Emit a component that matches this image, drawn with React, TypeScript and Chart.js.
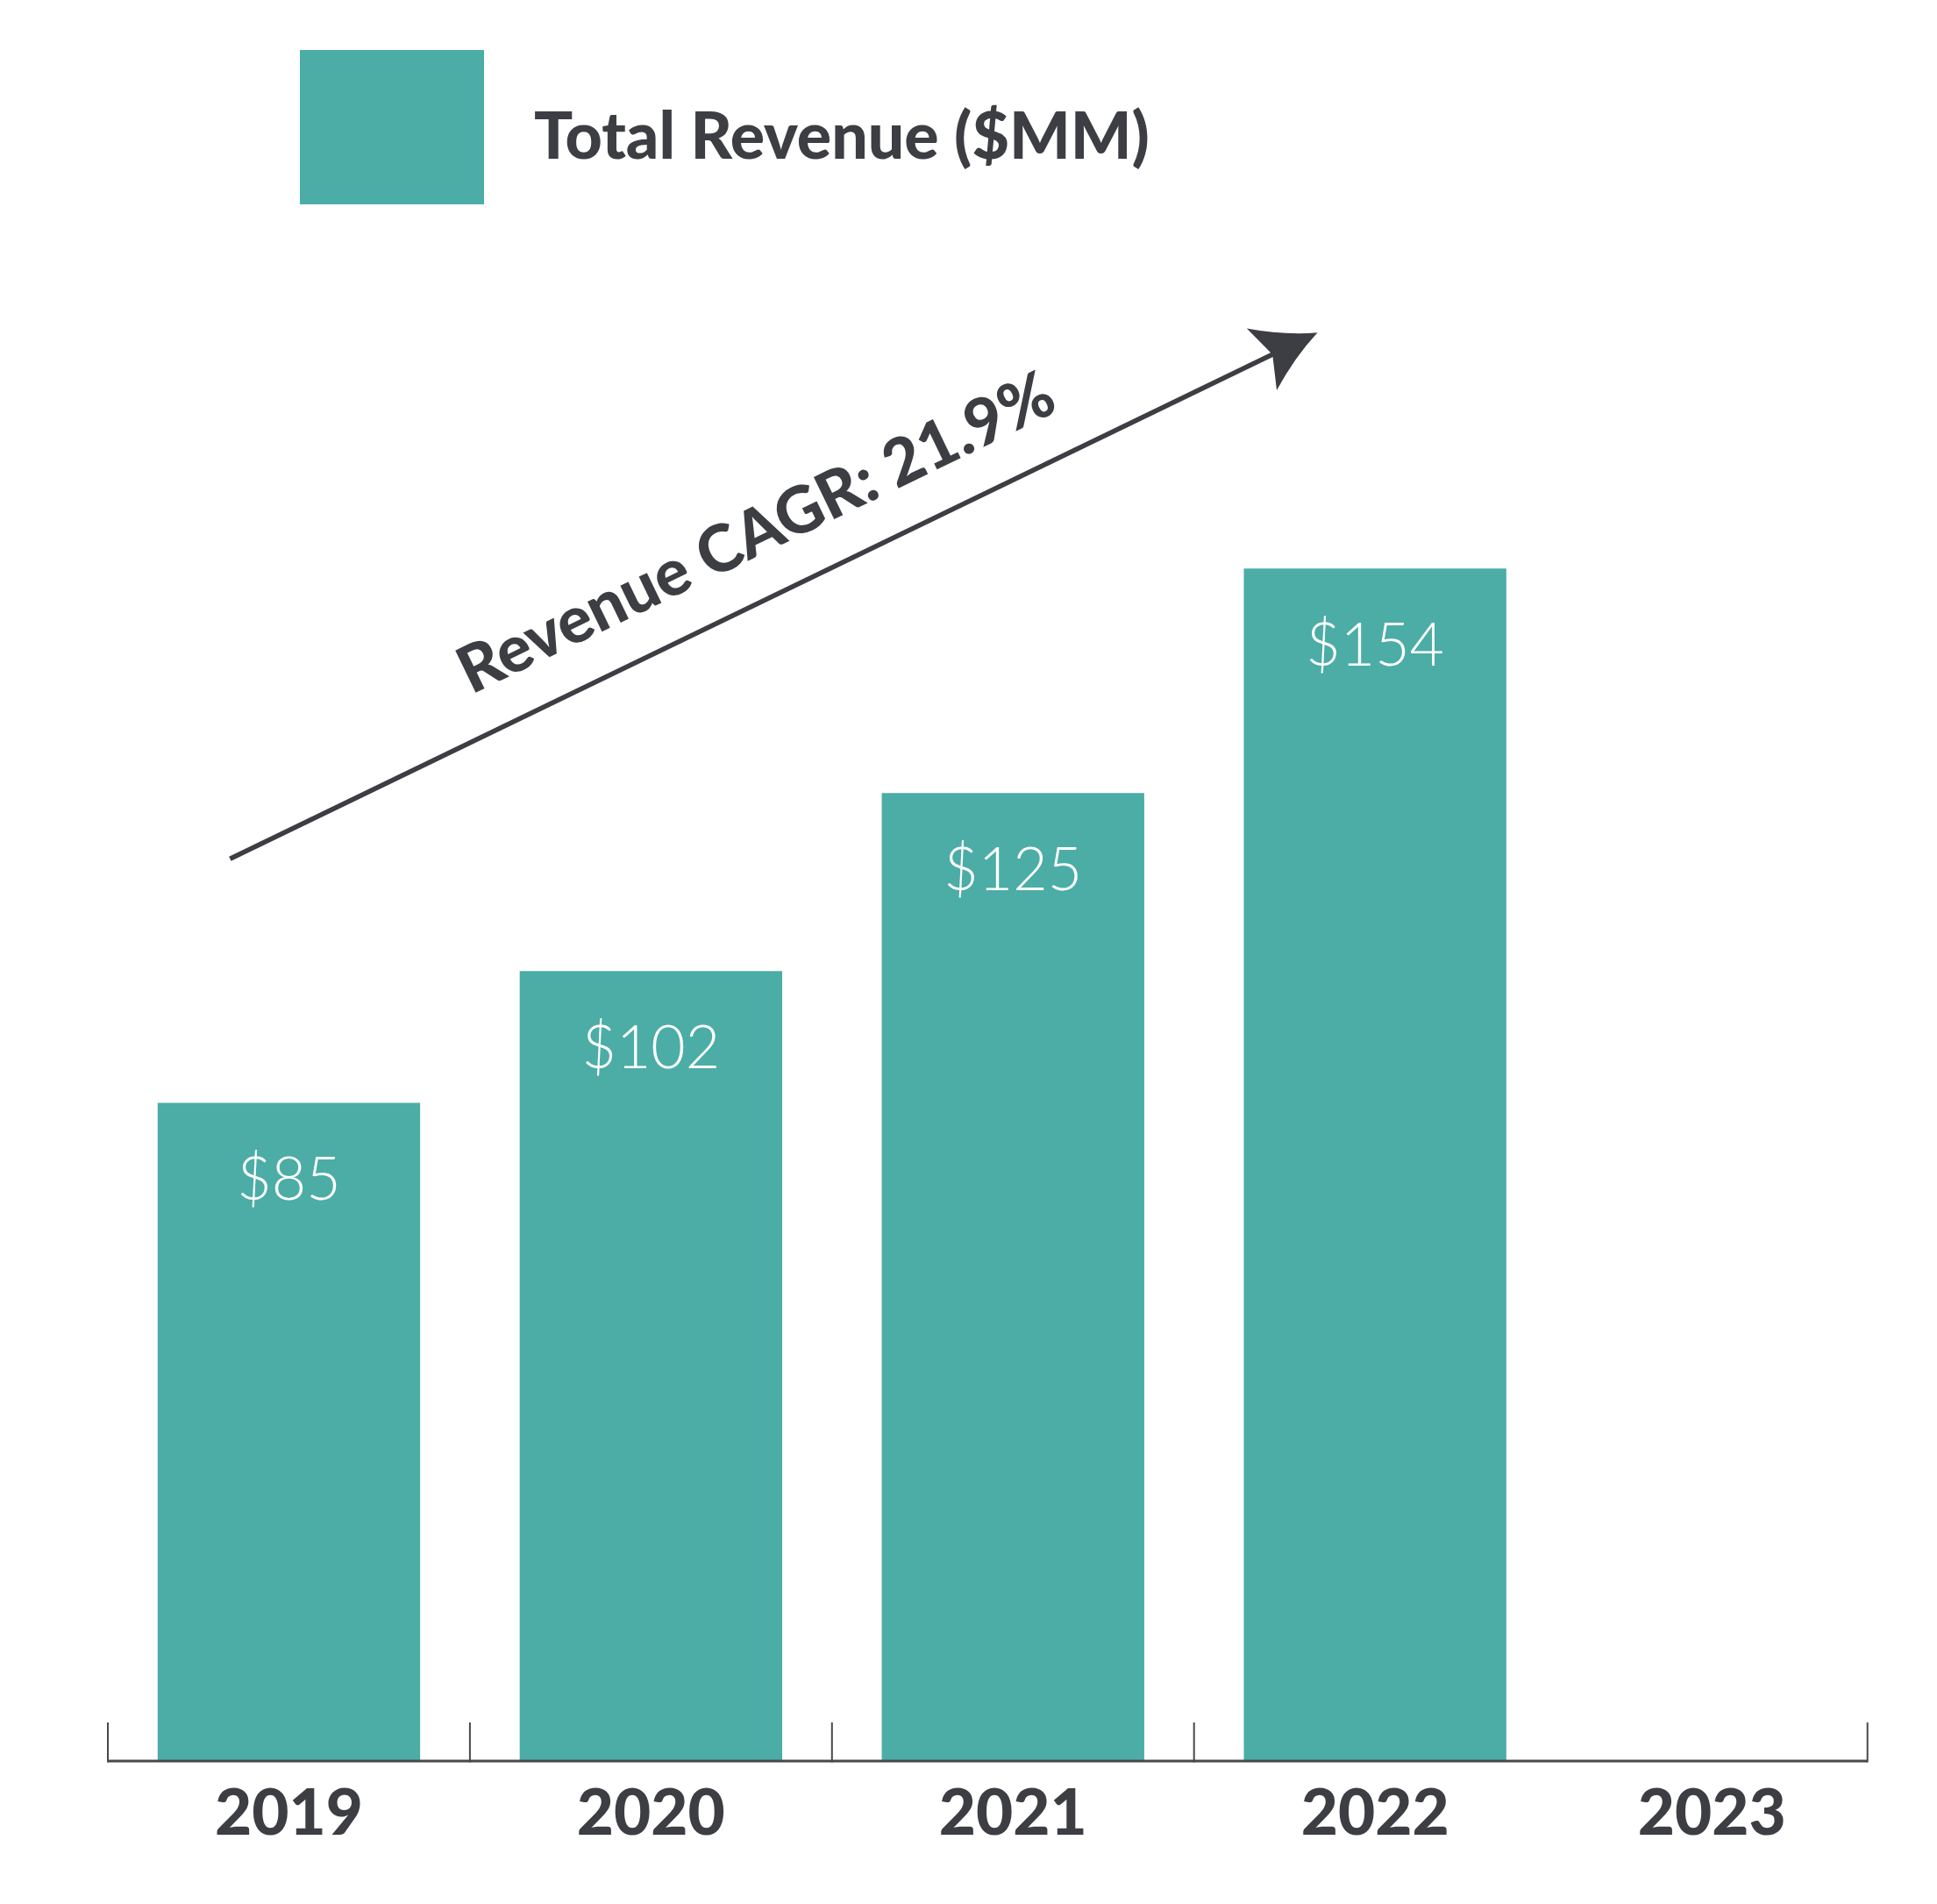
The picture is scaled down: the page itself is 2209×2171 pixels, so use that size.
import React, { useEffect, useRef } from "react";
import { Chart, registerables } from "chart.js";

Chart.register(...registerables);

// ---- data ----
const categories = ["2019", "2020", "2021", "2022", "2023"];
const revenue: (number | null)[] = [85, 102, 125, 154, null];
const valueLabels = ["$85", "$102", "$125", "$154", ""];
const seriesLabel = "Total Revenue ($MM)";
const cagrLabel = "Revenue CAGR: 21.9%";
const yMin = 0;
const yMax = 200;
// arrow annotation anchored in data space (category index, value)
const arrowStart = { x: -0.1625, y: 116.5 };
const arrowTip = { x: 2.841, y: 184.45 };

// ---- styles ----
const TEAL = "#4bada6";
const INK = "#3d3e43";
const AXIS = "#48484d";
const FAMILY = "Lato, 'Open Sans', sans-serif";
const HEAVY = "900";

function fitSize(ctx: CanvasRenderingContext2D, text: string, weight: string, target: number) {
  ctx.font = `${weight} 100px ${FAMILY}`;
  const w = ctx.measureText(text).width;
  return (100 * target) / w;
}

const decor = {
  id: "decor",
  afterDatasetsDraw(chart: any) {
    const ctx: CanvasRenderingContext2D = chart.ctx;
    const xs = chart.scales.x;
    const ys = chart.scales.y;
    const area = chart.chartArea;
    const n = categories.length;
    const step = (area.right - area.left) / n;
    const base = ys.getPixelForValue(0);
    ctx.save();

    // value labels inside bars
    const meta = chart.getDatasetMeta(0);
    ctx.fillStyle = "#ffffff";
    ctx.textAlign = "center";
    ctx.textBaseline = "alphabetic";
    ctx.font = `300 68px ${FAMILY}`;
    meta.data.forEach((bar: any, i: number) => {
      if (revenue[i] == null) return;
      ctx.fillText(valueLabels[i], bar.x, bar.y + 111);
    });

    // axis line and ticks
    const axisRight = xs.getPixelForValue(n - 1) + 0.36 * step;
    ctx.strokeStyle = AXIS;
    ctx.lineWidth = 3;
    ctx.beginPath();
    ctx.moveTo(area.left, base);
    ctx.lineTo(axisRight, base);
    ctx.stroke();
    ctx.lineWidth = 2;
    const tickXs: number[] = [];
    for (let i = 0; i < n - 1; i++) tickXs.push(area.left + i * step);
    tickXs.push(axisRight);
    tickXs.forEach((x) => {
      ctx.beginPath();
      ctx.moveTo(x, base + 1.5);
      ctx.lineTo(x, base - 44);
      ctx.stroke();
    });

    // year labels
    const yearSize = fitSize(ctx, categories[0], HEAVY, 169);
    ctx.fillStyle = INK;
    ctx.font = `${HEAVY} ${yearSize}px ${FAMILY}`;
    ctx.textAlign = "center";
    categories.forEach((c, i) => {
      const x = i === n - 1 ? (area.left + i * step + axisRight) / 2 : xs.getPixelForValue(i);
      ctx.fillText(c, x, base + 84);
    });

    // legend
    ctx.fillStyle = TEAL;
    ctx.fillRect(342, 57, 210, 176);
    const legSize = fitSize(ctx, seriesLabel, HEAVY, 702);
    ctx.fillStyle = INK;
    ctx.font = `${HEAVY} ${legSize}px ${FAMILY}`;
    ctx.textAlign = "left";
    ctx.fillText(seriesLabel, 609, 181);

    // CAGR arrow
    const sx = xs.getPixelForValue(arrowStart.x);
    const sy = ys.getPixelForValue(arrowStart.y);
    const tx = xs.getPixelForValue(arrowTip.x);
    const ty = ys.getPixelForValue(arrowTip.y);
    const ang = Math.atan2(ty - sy, tx - sx);
    const len = Math.hypot(tx - sx, ty - sy);
    ctx.translate(sx, sy);
    ctx.rotate(ang);
    ctx.strokeStyle = INK;
    ctx.fillStyle = INK;
    ctx.lineWidth = 5.5;
    ctx.beginPath();
    ctx.moveTo(0, 0);
    ctx.lineTo(len - 55, 0);
    ctx.stroke();
    // head (concave)
    ctx.beginPath();
    ctx.moveTo(len, 0);
    ctx.quadraticCurveTo(len - 36, -14, len - 70.5, -39.5);
    ctx.lineTo(len - 57, 0);
    ctx.lineTo(len - 70.5, 39);
    ctx.quadraticCurveTo(len - 36, 14, len, 0);
    ctx.closePath();
    ctx.fill();
    // label
    const cagrSize = fitSize(ctx, cagrLabel, HEAVY, 746);
    ctx.font = `${HEAVY} ${cagrSize}px ${FAMILY}`;
    ctx.textAlign = "left";
    ctx.textBaseline = "alphabetic";
    ctx.fillText(cagrLabel, 329, -48.5);

    ctx.restore();
  },
};

export default function App() {
  const ref = useRef<HTMLCanvasElement | null>(null);
  useEffect(() => {
    if (!ref.current) return;
    const chart = new Chart(ref.current, {
      type: "bar",
      data: {
        labels: categories,
        datasets: [
          {
            label: seriesLabel,
            data: revenue,
            backgroundColor: TEAL,
            borderWidth: 0,
            barPercentage: 0.725,
            categoryPercentage: 1,
          },
        ],
      },
      options: {
        responsive: false,
        animation: false,
        devicePixelRatio: 1,
        layout: { padding: { left: 123, right: 21.5, top: 242, bottom: 163 } },
        plugins: { legend: { display: false }, tooltip: { enabled: false } },
        scales: {
          x: { display: false, offset: true },
          y: { display: false, min: yMin, max: yMax },
        },
      },
      plugins: [decor],
    } as any);
    return () => chart.destroy();
  }, []);
  return (
    <div style={{ position: "absolute", left: 0, top: 0, width: 2209, height: 2171, background: "#fff" }}>
      <canvas ref={ref} width={2209} height={2171} style={{ display: "block", width: 2209, height: 2171 }} />
    </div>
  );
}
